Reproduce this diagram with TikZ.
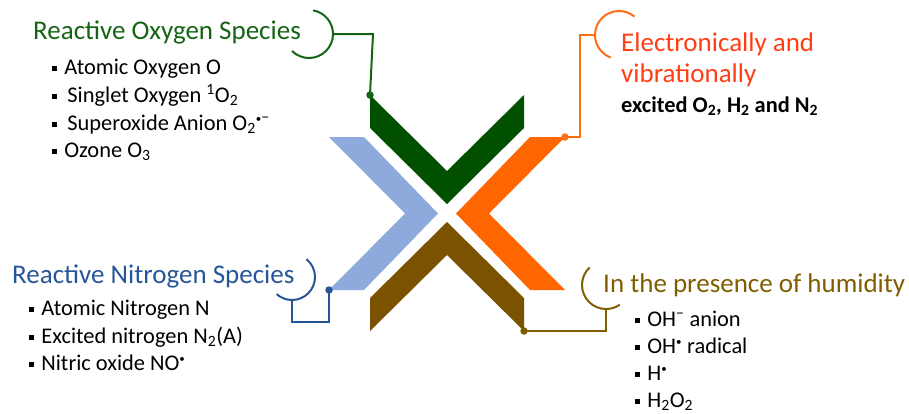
\documentclass[tikz,border=0pt]{standalone}
\usepackage{fontspec}
\setmainfont{Carlito}
\definecolor{rosShape}{RGB}{0,80,0}
\definecolor{rosLine}{RGB}{20,100,20}
\definecolor{exShape}{RGB}{255,102,0}
\definecolor{exLine}{RGB}{255,110,20}
\definecolor{exText}{RGB}{255,62,20}
\definecolor{rnsShape}{RGB}{142,169,219}
\definecolor{rnsLine}{RGB}{38,86,152}
\definecolor{humShape}{RGB}{123,82,0}
\definecolor{humLine}{RGB}{128,94,0}
\newcommand{\sqbul}{\rule[3pt]{4.6pt}{4.6pt}\hspace{7.6pt}}
\newcommand{\rad}{\scalebox{0.7}{•}}
\tikzset{
  link/.style={line width=2pt},
  knob/.style={circle,inner sep=0pt,minimum size=7.5pt},
  head/.style={anchor=base west,inner sep=0pt,font=\fontsize{27}{32}\selectfont},
  item/.style={anchor=base west,inner sep=0pt,font=\fontsize{22.4}{26}\selectfont},
}
\begin{document}
\begin{tikzpicture}[x=1pt,y=-1pt]
            \useasboundingbox (0,0) rectangle (909,413);
            % the four chevrons
            \fill[rosShape] (370,95) -- (447,171) -- (524,95) -- (524,128) -- (447,204) -- (370,128) -- cycle;
            \fill[exShape] (530,137) -- (565,137) -- (489,213.5) -- (565,290) -- (530,290) -- (456,213.5) -- cycle;
            \fill[rnsShape] (364,137) -- (329,137) -- (405,213.5) -- (329,290) -- (364,290) -- (438,213.5) -- cycle;
            \fill[humShape] (370,331) -- (447,255) -- (524,331) -- (524,298) -- (447,222) -- (370,298) -- cycle;
            % connectors
            \coordinate (rosDot) at (370,95);
            \coordinate (rosBend) at (373,34);
            \coordinate (rosHook) at (333,34);
            \draw[link,rosLine] (rosDot) -- (rosBend) -- (rosHook);
            \draw[link,rosLine] (rosHook) arc[start angle=0,end angle=-80,radius=24];
            \draw[link,rosLine] (rosHook) arc[start angle=0,end angle=135,radius=24];
            \node[knob,fill=rosLine] at (rosDot) {};
            \coordinate (exDot) at (565,137);
            \coordinate (exBend) at (580,35);
            \coordinate (exHook) at (595,35);
            \draw[link,exLine] (exDot) -| (exBend) -- (exHook);
            \draw[link,exLine] (exHook) arc[start angle=180,end angle=310,radius=24];
            \draw[link,exLine] (exHook) arc[start angle=180,end angle=110,radius=24];
            \node[knob,fill=exLine] at (exDot) {};
            \coordinate (rnsDot) at (329,290);
            \coordinate (rnsBend) at (329,322);
            \coordinate (rnsHook) at (292,300);
            \draw[link,rnsLine] (rnsDot) -- (rnsBend) -| (rnsHook);
            \draw[link,rnsLine] (rnsHook) arc[start angle=90,end angle=132,radius=23];
            \draw[link,rnsLine] (rnsHook) arc[start angle=90,end angle=-51,radius=23];
            \node[knob,fill=rnsLine] at (rnsDot) {};
            \coordinate (humDot) at (524,331);
            \coordinate (humHook) at (606,309);
            \draw[link,humLine] (humDot) -| (humHook);
            \draw[link,humLine] (humHook) arc[start angle=90,end angle=55,radius=24];
            \draw[link,humLine] (humHook) arc[start angle=90,end angle=227,radius=24];
            \node[knob,fill=humLine] at (humDot) {};
            % reactive oxygen species
            \node[head,text=rosLine] (ros) at (33,39) {Reactive Oxygen Species};
            \node[item] (ros1) at (52,74) {\sqbul Atomic Oxygen O};
            \node[item] (ros2) at (52,102) {\sqbul\hspace{3pt}Singlet Oxygen \textsuperscript{1}O\textsubscript{2}};
            \node[item] (ros3) at (52,130) {\sqbul\hspace{3pt}Superoxide Anion O\textsubscript{2}\textsuperscript{\rad−}};
            \node[item] (ros4) at (52,157) {\sqbul Ozone O\textsubscript{3}};
            % excited species
            \node[head,text=exText] (ex1) at (621,51) {Electronically and};
            \node[head,text=exText] (ex2) at (621,82) {vibrationally};
            \node[item,font=\bfseries\fontsize{22.4}{26}\selectfont] (ex3) at (621,112) {excited O\textsubscript{2}, H\textsubscript{2} and N\textsubscript{2}};
            % reactive nitrogen species
            \node[head,text=rnsLine] (rns) at (12,283) {Reactive Nitrogen Species};
            \node[item] (rns1) at (29,315) {\sqbul Atomic Nitrogen N};
            \node[item] (rns2) at (29,343) {\sqbul Excited nitrogen N\textsubscript{2}(A)};
            \node[item] (rns3) at (29,370) {\sqbul Nitric oxide NO\textsuperscript{\rad}};
            % humidity
            \node[head,text=humLine] (hum) at (603,292) {In the presence of humidity};
            \node[item] (hum1) at (635,326) {\sqbul OH\textsuperscript{−} anion};
            \node[item] (hum2) at (635,353) {\sqbul OH\textsuperscript{\rad} radical};
            \node[item] (hum3) at (635,380) {\sqbul H\textsuperscript{\rad}};
            \node[item] (hum4) at (635,407) {\sqbul H\textsubscript{2}O\textsubscript{2}};
\end{tikzpicture}
\end{document}
